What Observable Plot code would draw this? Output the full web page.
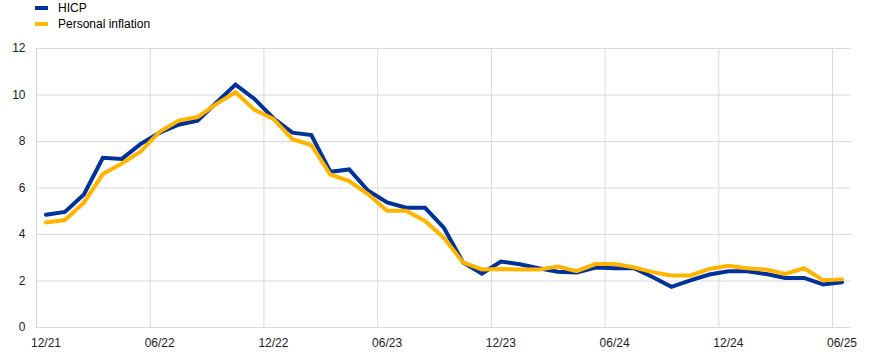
<!DOCTYPE html>
<html>
<head>
<meta charset="utf-8">
<script src="https://cdn.jsdelivr.net/npm/d3@7"></script>
<script src="https://cdn.jsdelivr.net/npm/@observablehq/plot@0.6"></script>
<style>
  html, body { margin: 0; padding: 0; background: #fff; }
  body { width: 872px; height: 354px; overflow: hidden; font-family: Arial, "Liberation Sans", sans-serif; }
  #legend { position: relative; height: 38px; width: 872px; font-size: 12px; color: #000; }
  .item { position: absolute; left: 35px; height: 16px; display: flex; align-items: center; }
  .sw { width: 13px; height: 4px; margin-right: 10px; }
</style>
</head>
<body>
<div id="legend"></div>
<div id="chart"></div>
<script>
const months = ["12/21","01/22","02/22","03/22","04/22","05/22","06/22","07/22","08/22","09/22","10/22","11/22",
  "12/22","01/23","02/23","03/23","04/23","05/23","06/23","07/23","08/23","09/23","10/23","11/23",
  "12/23","01/24","02/24","03/24","04/24","05/24","06/24","07/24","08/24","09/24","10/24","11/24",
  "12/24","01/25","02/25","03/25","04/25","05/25","06/25"];
const hicp = [4.85, 4.97, 5.72, 7.3, 7.25, 7.9, 8.38, 8.72, 8.9, 9.68, 10.45, 9.83,
  9.0, 8.38, 8.28, 6.7, 6.8, 5.88, 5.38, 5.15, 5.15, 4.28, 2.8,
  2.32, 2.84, 2.72, 2.55, 2.4, 2.37, 2.58, 2.55, 2.56, 2.17, 1.75, 2.03, 2.28,
  2.42, 2.42, 2.3, 2.13, 2.13, 1.85, 1.95];
const personal = [4.52, 4.62, 5.37, 6.6, 7.05, 7.57, 8.42, 8.9, 9.05, 9.62, 10.12, 9.36,
  8.97, 8.1, 7.85, 6.58, 6.3, 5.73, 5.02, 5.02, 4.58, 3.85, 2.8,
  2.5, 2.52, 2.49, 2.49, 2.62, 2.42, 2.73, 2.73, 2.59, 2.38, 2.24, 2.24, 2.52,
  2.66, 2.55, 2.49, 2.3, 2.55, 2.03, 2.07];
const series = [
  {name: "HICP", color: "#003299", values: hicp},
  {name: "Personal inflation", color: "#FFB400", values: personal}
];
const yTicks = [0, 2, 4, 6, 8, 10, 12];
const xTickIdx = [0, 6, 12, 18, 24, 30, 36, 42];

// legend
const legend = document.getElementById("legend");
series.forEach((s, k) => {
  const it = document.createElement("div");
  it.className = "item";
  it.style.top = (k * 16) + "px";
  it.innerHTML = `<span class="sw" style="background:${s.color}"></span><span>${s.name}</span>`;
  legend.appendChild(it);
});

const data = series.flatMap(s => s.values.map((v, i) => ({i, v, name: s.name})));
const gridX = xTickIdx.map(i => i - 0.5);

const chart = Plot.plot({
  width: 872,
  height: 316,
  marginLeft: 36,
  marginRight: 21,
  marginTop: 10,
  marginBottom: 27,
  style: {fontFamily: "Arial, 'Liberation Sans', sans-serif", fontSize: "12px", color: "#222", background: "#fff"},
  x: {type: "linear", domain: [-0.5, months.length - 0.5], axis: null},
  y: {domain: [0, 12], axis: null},
  color: {domain: series.map(s => s.name), range: series.map(s => s.color)},
  marks: [
    Plot.gridY(yTicks, {stroke: "#d9d9d9", strokeOpacity: 1, strokeWidth: 1}),
    Plot.ruleX(gridX, {stroke: "#d9d9d9", strokeOpacity: 1, strokeWidth: 1}),
    Plot.axisY(yTicks, {tickSize: 0, tickPadding: 11, label: null, fontSize: 12}),
    Plot.axisX(xTickIdx, {tickSize: 0, tickPadding: 11, tickFormat: i => months[i], label: null, fontSize: 12}),
    Plot.line(data, {x: "i", y: "v", z: "name", stroke: "name", strokeWidth: 4, strokeLinejoin: "miter", strokeMiterlimit: 2})
  ]
});
document.getElementById("chart").appendChild(chart);
</script>
</body>
</html>
